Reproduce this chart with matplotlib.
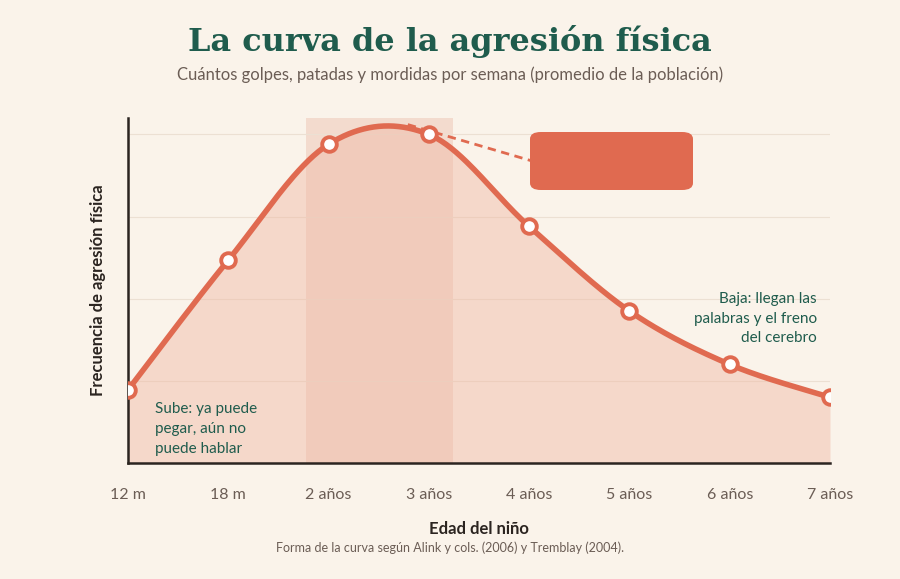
import matplotlib
matplotlib.use("Agg")
import matplotlib.pyplot as plt
import numpy as np
from matplotlib.patches import FancyBboxPatch

categories = ["12 m", "18 m", "2 años", "3 años", "4 años", "5 años", "6 años", "7 años"]
values = [0.89, 2.47, 3.88, 4.0, 2.88, 1.85, 1.20, 0.80]

BG = "#faf3ea"
LINE = "#e06a50"
GREEN = "#1f5c4d"

fig = plt.figure(figsize=(9, 5.79), dpi=100, facecolor=BG)
ax = fig.add_axes([128/900, 1-463/579, 702/900, (463-118)/579], facecolor=BG)

x = np.arange(len(values))
y = np.array(values)
# Catmull-Rom smoothing for line
xs, ys = [], []
P = np.column_stack([x, y])
P = np.vstack([P[0], P, P[-1]])
for i in range(1, len(P)-2):
    p0, p1, p2, p3 = P[i-1], P[i], P[i+1], P[i+2]
    for t in np.linspace(0, 1, 40, endpoint=False):
        pt = 0.5*((2*p1) + (-p0+p2)*t + (2*p0-5*p1+4*p2-p3)*t**2 + (-p0+3*p1-3*p2+p3)*t**3)
        xs.append(pt[0]); ys.append(pt[1])
xs.append(x[-1]); ys.append(y[-1])

ax.axvspan(1.77, 3.24, color="#efc9b8", alpha=0.55, lw=0, zorder=0)
for g in [1, 2, 3, 4]:
    ax.axhline(g, color="#ece0d3", lw=0.8, zorder=0)
ax.fill_between(xs, ys, 0, color="#f0b9a4", alpha=0.45, lw=0, zorder=1)
ax.plot(xs, ys, color=LINE, lw=4, zorder=3, solid_capstyle="round")
ax.scatter(x, y, s=110, facecolor="white", edgecolor=LINE, linewidth=2.8, zorder=4)

ax.set_xlim(0, 7)
ax.set_ylim(0, 4.2)
ax.set_xticks(x)
ax.set_xticklabels(categories, fontsize=11.5, color="#6b5d55", family="Lato")
ax.set_yticks([])
ax.tick_params(axis="x", length=0, pad=18)
for s in ["top", "right"]:
    ax.spines[s].set_visible(False)
ax.spines["left"].set_color("#2b2420"); ax.spines["left"].set_linewidth(1.8)
ax.spines["bottom"].set_color("#2b2420"); ax.spines["bottom"].set_linewidth(1.8)
ax.set_xlabel("Edad del niño", fontsize=12, fontweight="bold", color="#2b2420", family="Lato", labelpad=14)
ax.set_ylabel("Frecuencia de agresión física", fontsize=12, fontweight="bold", color="#2b2420", family="Lato", labelpad=16)

# annotation
ax.plot([2.79, 4.02], [4.12, 3.68], ls=(0, (3, 2)), color=LINE, lw=2, zorder=2, clip_on=False)
bx = FancyBboxPatch((530/900, 1-190/579), 163/900, 58/579, boxstyle="round,pad=0,rounding_size=0.012",
                    transform=fig.transFigure, facecolor=LINE, edgecolor="none", zorder=5)
fig.patches.append(bx)
fig.text(611/900, 1-149/579, "PICO NORMAL", ha="center", va="center", color="white", fontsize=11.5, fontweight="bold", family="Lato")
fig.text(611/900, 1-173/579, "2 a 3 años", ha="center", va="center", color="white", fontsize=11.5, fontweight="bold", family="Lato")

fig.text(155/900, 1-429/579, "Sube: ya puede\npegar, aún no\npuede hablar", ha="left", va="center", color=GREEN, fontsize=11, family="Lato", linespacing=1.5)
fig.text(817/900, 1-319/579, "Baja: llegan las\npalabras y el freno\ndel cerebro", ha="right", va="center", color=GREEN, fontsize=11, family="Lato", linespacing=1.5)

fig.text(0.5, 1-42/579, "La curva de la agresión física", ha="center", va="center", color=GREEN, fontsize=23, fontweight="bold", family="DejaVu Serif")
fig.text(0.5, 1-75/579, "Cuántos golpes, patadas y mordidas por semana (promedio de la población)", ha="center", va="center", color="#6b5d55", fontsize=12, family="Lato")
fig.text(0.5, 1-548/579, "Forma de la curva según Alink y cols. (2006) y Tremblay (2004).", ha="center", va="center", color="#6b5d55", fontsize=9, family="Lato")

fig.savefig("out.png", dpi=100, facecolor=BG)
